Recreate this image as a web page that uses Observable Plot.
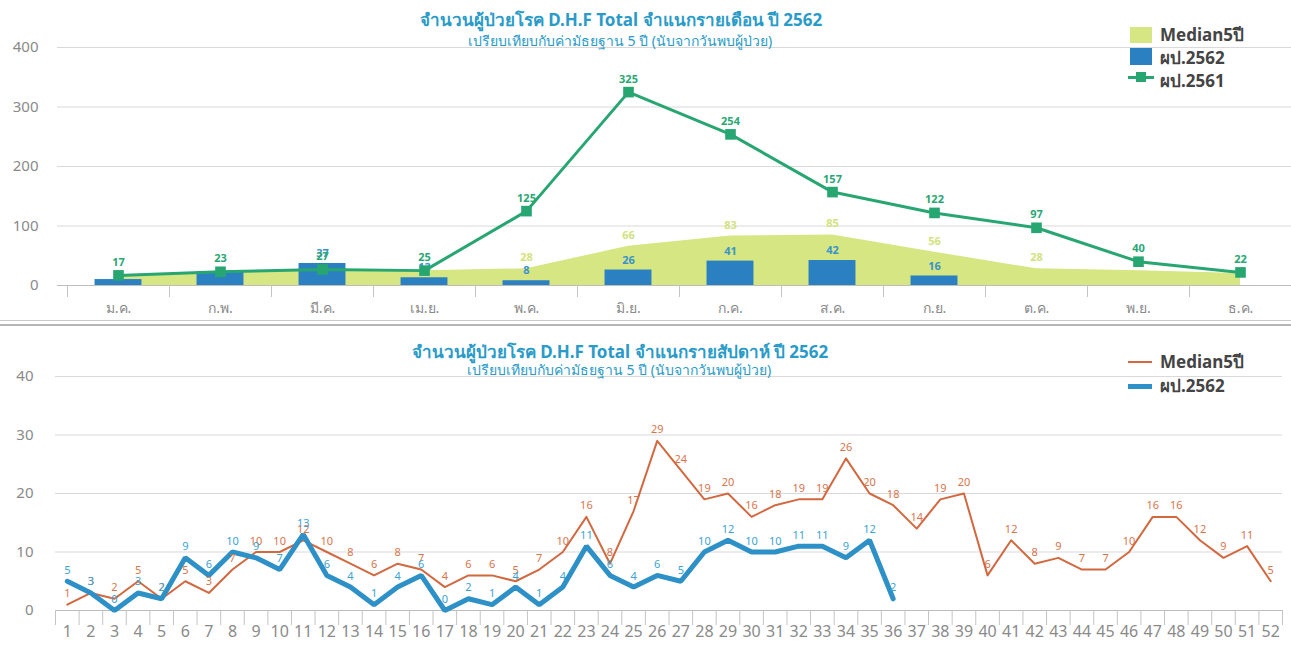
<!DOCTYPE html>
<html>
<head>
<meta charset="utf-8">
<script src="https://cdn.jsdelivr.net/npm/d3@7"></script>
<script src="https://cdn.jsdelivr.net/npm/@observablehq/plot@0.6"></script>
<style>
  html, body { margin: 0; padding: 0; background: #fff; }
  body { width: 1291px; height: 654px; position: relative; overflow: hidden;
         font-family: "Noto Sans", "DejaVu Sans", sans-serif; }
  .abs { position: absolute; }
  .title { color: #2a9bc8; font-weight: bold; font-size: 17px; line-height: 18px; white-space: nowrap; transform: translateX(-50%); }
  .sub { color: #2a9bc8; font-size: 14px; line-height: 15px; white-space: nowrap; transform: translateX(-50%); }
  .leg { color: #444; font-weight: bold; font-size: 17px; line-height: 20px; white-space: nowrap; }
  .sep { left: 0; width: 1291px; height: 3px; border-top: 1px solid #c8c8c8; border-bottom: 2px solid #b5b5b5; top: 320px; }
</style>
</head>
<body>
<div id="topChart" class="abs" style="left:0;top:0"></div>
<div id="botChart" class="abs" style="left:0;top:330px"></div>
<div class="abs sep"></div>

<div class="abs title" style="left:621px;top:11px">จำนวนผู้ป่วยโรค D.H.F Total จำแนกรายเดือน ปี 2562</div>
<div class="abs sub" style="left:620px;top:33px">เปรียบเทียบกับค่ามัธยฐาน 5 ปี (นับจากวันพบผู้ป่วย)</div>
<div class="abs title" style="left:620px;top:343px">จำนวนผู้ป่วยโรค D.H.F Total จำแนกรายสัปดาห์ ปี 2562</div>
<div class="abs sub" style="left:619px;top:362px">เปรียบเทียบกับค่ามัธยฐาน 5 ปี (นับจากวันพบผู้ป่วย)</div>

<!-- top legend -->
<div class="abs" style="left:1130px;top:27px;width:22px;height:16px;background:#d5e682"></div>
<div class="abs leg" style="left:1160px;top:25px">Median5ปี</div>
<div class="abs" style="left:1130px;top:48px;width:22px;height:17px;background:#2b80c2"></div>
<div class="abs leg" style="left:1160px;top:48px">ผป.2562</div>
<div class="abs" style="left:1128px;top:76px;width:26px;height:3px;background:#27a672"></div>
<div class="abs" style="left:1136px;top:72px;width:10px;height:10px;background:#27a672"></div>
<div class="abs leg" style="left:1160px;top:71px">ผป.2561</div>

<!-- bottom legend -->
<div class="abs" style="left:1128px;top:361px;width:24px;height:2px;background:#d2683f"></div>
<div class="abs leg" style="left:1160px;top:352px">Median5ปี</div>
<div class="abs" style="left:1128px;top:384px;width:24px;height:5px;background:#2d90c6"></div>
<div class="abs leg" style="left:1160px;top:376px">ผป.2562</div>

<script>
// ---------- Monthly data ----------
const months = ["ม.ค.","ก.พ.","มี.ค.","เม.ย.","พ.ค.","มิ.ย.","ก.ค.","ส.ค.","ก.ย.","ต.ค.","พ.ย.","ธ.ค."];
const median5Month = [17, 20, 27, 25, 28, 66, 83, 85, 56, 28, 25, 20];
const cases2562Month = [10, 23, 37, 13, 8, 26, 41, 42, 16, null, null, null];
const cases2561Month = [17, 23, 27, 25, 125, 325, 254, 157, 122, 97, 40, 22];
const monthYTicks = [0, 100, 200, 300, 400];

// ---------- Weekly data ----------
const weeks = d3.range(1, 53);
const median5Week = [1,3,2,5,2,5,3,7,10,10,12,10,8,6,8,7,4,6,6,5,7,10,16,8,17,29,24,19,20,16,18,19,19,26,20,18,14,19,20,6,12,8,9,7,7,10,16,16,12,9,11,5];
const cases2562Week = [5,3,0,3,2,9,6,10,9,7,13,6,4,1,4,6,0,2,1,4,1,4,11,6,4,6,5,10,12,10,10,11,11,9,12,2];
const weekYTicks = [0, 10, 20, 30, 40];

const FONT = '"Noto Sans", "DejaVu Sans", sans-serif';

// ---------- Top chart ----------
const mData = months.map((m, i) => ({i, m, med: median5Month[i], c62: cases2562Month[i], c61: cases2561Month[i]}));
const mBars = mData.filter(d => d.c62 != null);
// labels hidden behind the 2561 labels in the original are left out
const mMedLabels = mData.filter(d => d.c61 - d.med > 30);
const mBarLabels = mBars.filter(d => !(d.c61 >= d.c62 && d.c61 - d.c62 < 10));
const mBounds = d3.range(0, months.length + 1).map(i => i - 0.5);

const topPlot = Plot.plot({
  width: 1291, height: 320,
  marginLeft: 57, marginRight: 0, marginTop: 47, marginBottom: 35,
  style: {fontFamily: FONT, fontSize: "14px", color: "#888", background: "transparent"},
  x: {type: "linear", domain: [-0.5, 11.5], range: [67, 1291], label: null},
  y: {domain: [0, 400], label: null},
  marks: [
    Plot.gridY(monthYTicks.filter(v => v > 0), {stroke: "#d9d9d9", strokeOpacity: 1}),
    Plot.axisY({ticks: monthYTicks, tickSize: 0, tickPadding: 19, fill: "#8a8a8a", fontSize: 15, label: null}),
    Plot.areaY(mData, {x: "i", y: "med", fill: "#d5e682", curve: "linear"}),
    Plot.rectY(mBars, {x1: d => d.i - 0.23, x2: d => d.i + 0.23, y: "c62", fill: "#2b80c2"}),
    Plot.ruleY([0], {stroke: "#bdbdbd"}),
    Plot.axisX({ticks: mBounds, tickSize: 12, tickFormat: () => "", stroke: "#c4c4c4", label: null}),
    Plot.axisX({ticks: mData.map(d => d.i), tickSize: 0, tickPadding: 18, tickFormat: i => months[i], fill: "#8a8a8a", fontSize: 14, label: null}),
    Plot.text(mMedLabels, {x: "i", y: "med", text: d => String(d.med), dy: -11, fill: "#d3e27f", fontSize: 11, fontWeight: "bold"}),
    Plot.text(mBarLabels, {x: "i", y: "c62", text: d => String(d.c62), dy: -10, fill: "#3a93c9", fontSize: 11, fontWeight: "bold"}),
    Plot.line(mData, {x: "i", y: "c61", stroke: "#27a672", strokeWidth: 3}),
    Plot.dot(mData, {x: "i", y: "c61", symbol: "square", r: 6, fill: "#27a672"}),
    Plot.text(mData, {x: "i", y: "c61", text: d => String(d.c61), dy: -13, fill: "#2aa774", fontSize: 11, fontWeight: "bold"})
  ]
});
document.getElementById("topChart").appendChild(topPlot);

// ---------- Bottom chart ----------
const wMed = weeks.map((w, k) => ({w, v: median5Week[k]}));
const wCur = cases2562Week.map((v, k) => ({w: weeks[k], v}));
const wBounds = [0, ...weeks].map(w => w + 0.5);

const botPlot = Plot.plot({
  width: 1291, height: 324,
  marginLeft: 55, marginRight: 9, marginTop: 46, marginBottom: 44,
  style: {fontFamily: FONT, fontSize: "14px", color: "#888", background: "transparent"},
  x: {type: "linear", domain: [0.5, 52.5], label: null},
  y: {domain: [0, 40], label: null},
  marks: [
    Plot.gridY(weekYTicks.filter(v => v > 0), {stroke: "#d9d9d9", strokeOpacity: 1}),
    Plot.axisY({ticks: weekYTicks, tickSize: 0, tickPadding: 22, fill: "#8a8a8a", fontSize: 15, label: null}),
    Plot.ruleY([0], {stroke: "#bdbdbd"}),
    Plot.axisX({ticks: wBounds, tickSize: 15, tickFormat: () => "", stroke: "#c4c4c4", label: null}),
    Plot.axisX({ticks: weeks, tickSize: 0, tickPadding: 15, tickFormat: d => String(d), fill: "#8a8a8a", fontSize: 16, label: null}),
    Plot.line(wMed, {x: "w", y: "v", stroke: "#d2683f", strokeWidth: 2}),
    Plot.line(wCur, {x: "w", y: "v", stroke: "#2d90c6", strokeWidth: 5, strokeLinejoin: "miter"}),
    Plot.text(wMed, {x: "w", y: "v", text: d => String(d.v), dy: -11, fill: "#d9744c", fontSize: 11}),
    Plot.text(wCur, {x: "w", y: "v", text: d => String(d.v), dy: -11, fill: "#3ba3d4", fontSize: 11})
  ]
});
document.getElementById("botChart").appendChild(botPlot);
</script>
</body>
</html>
